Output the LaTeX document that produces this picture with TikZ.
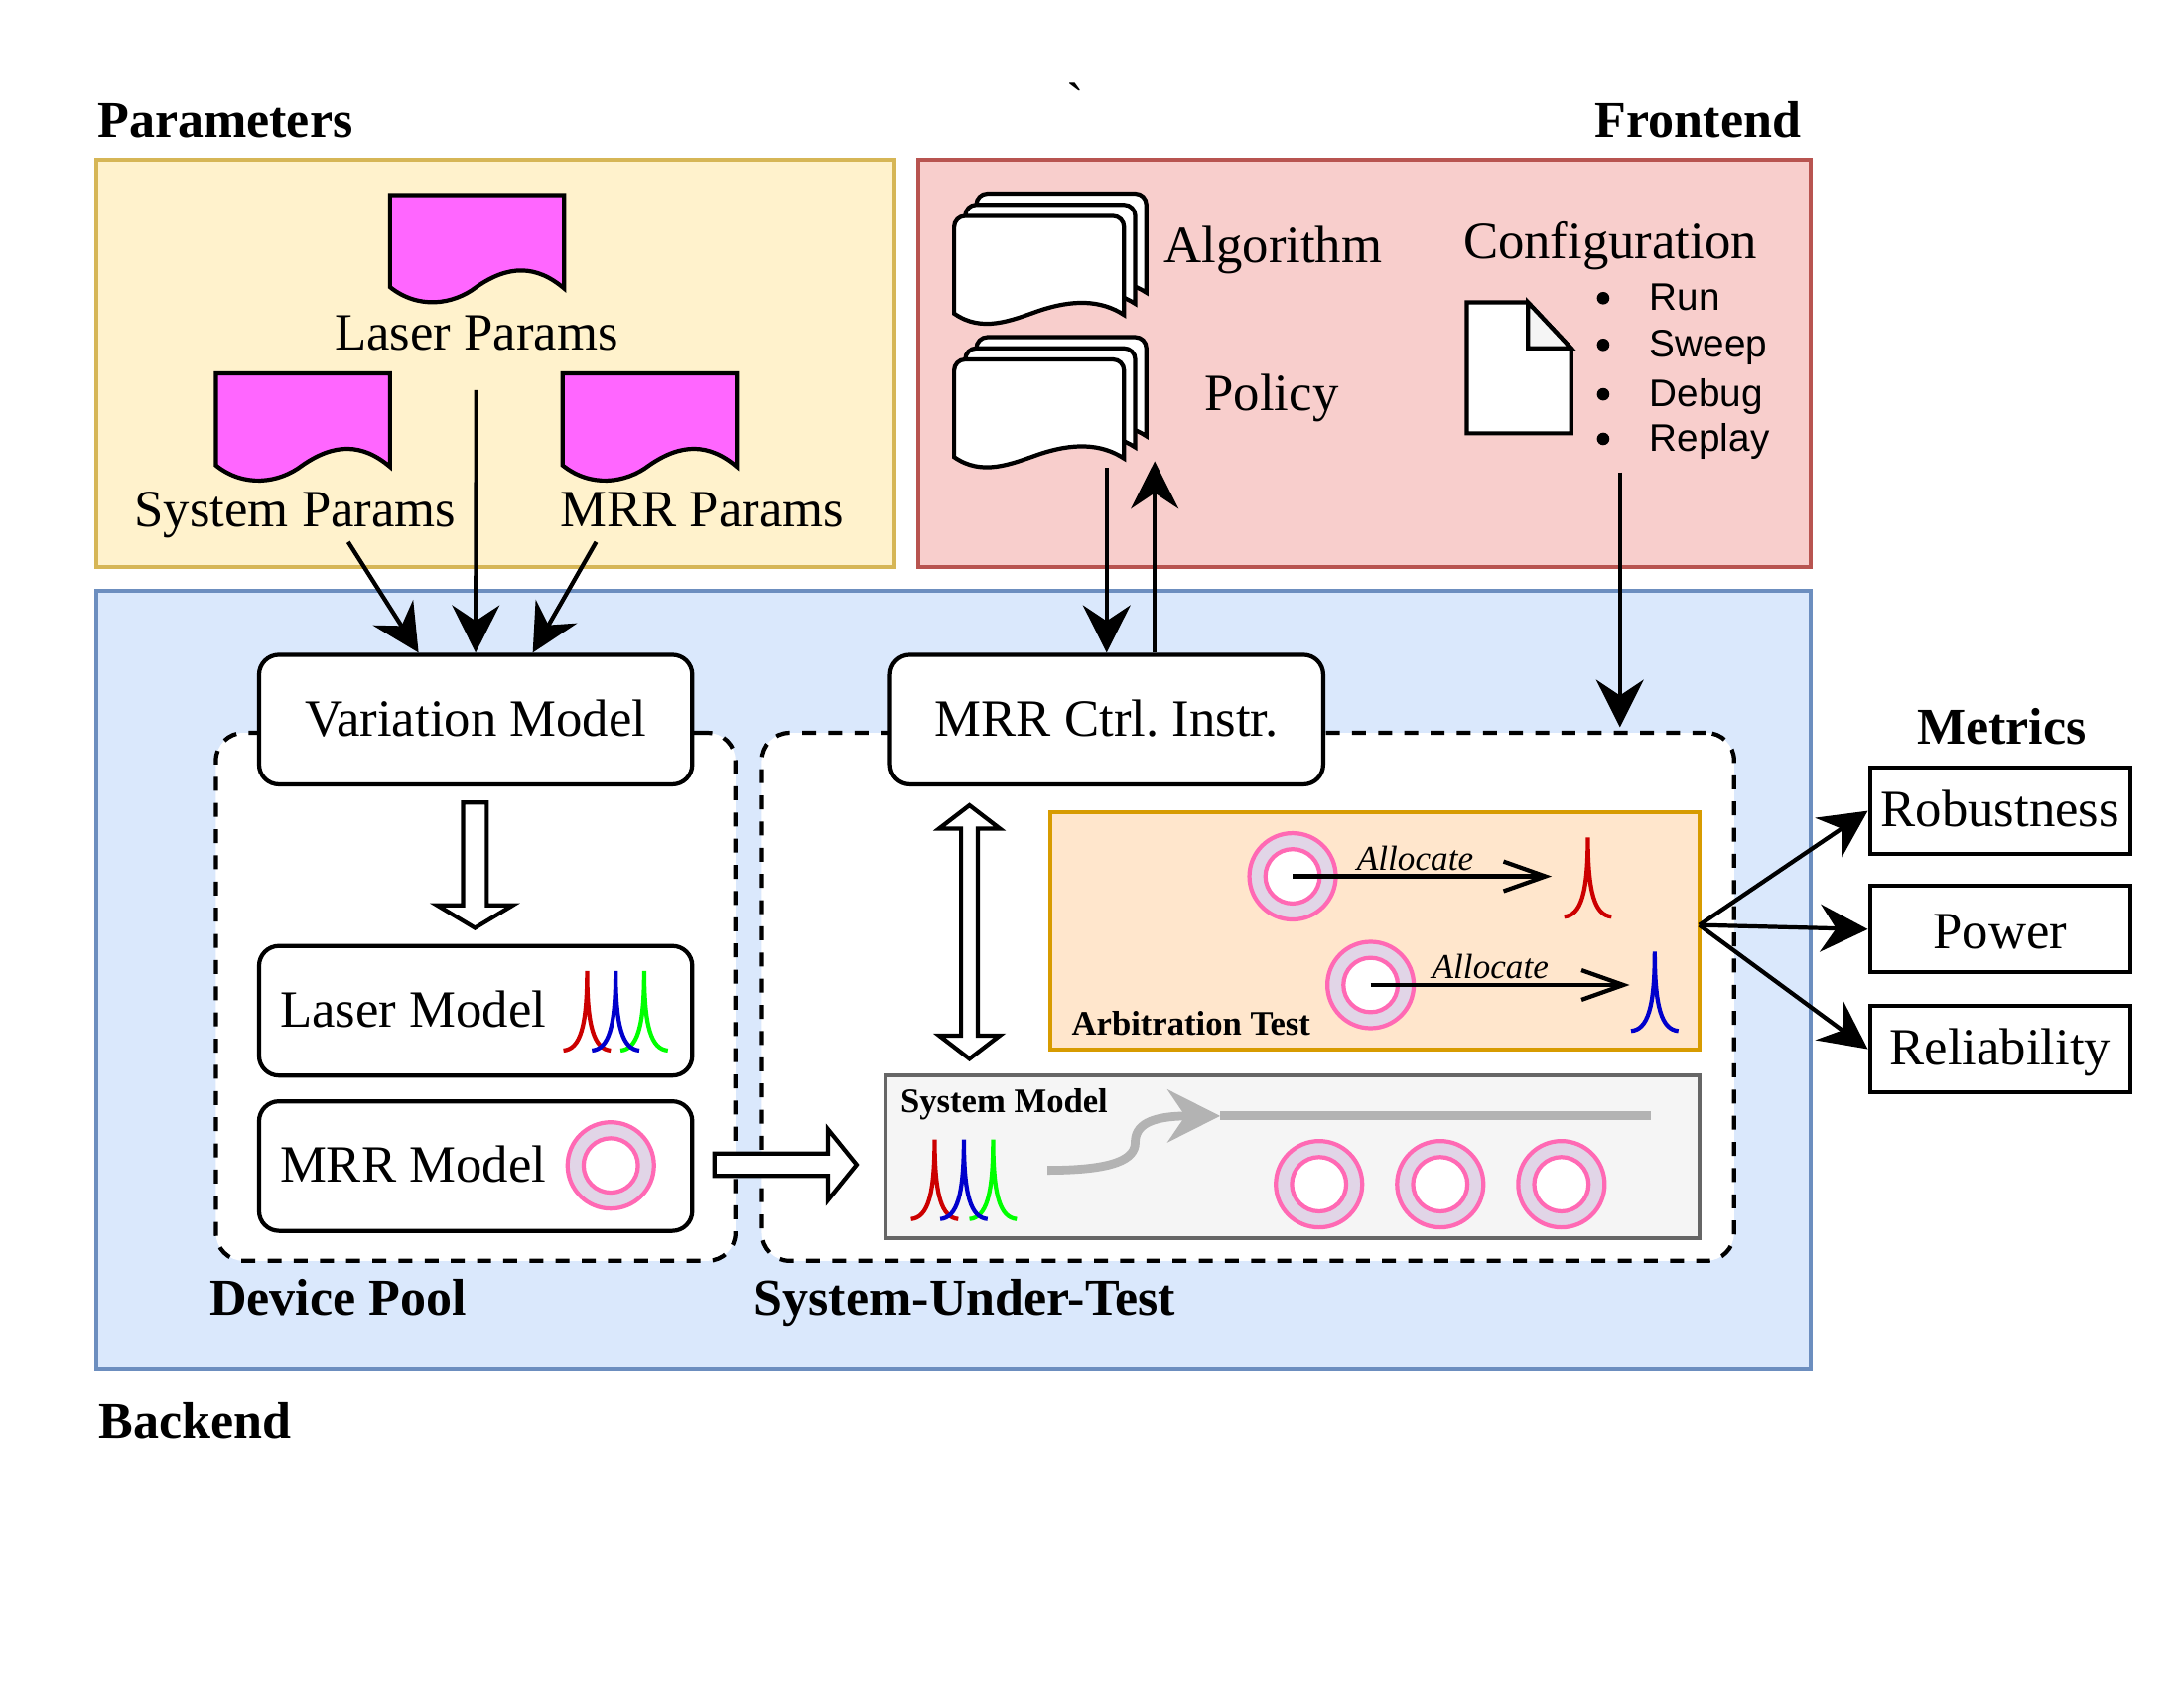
\documentclass[tikz,border=0pt]{standalone}
\usepackage{fontspec}
\setmainfont{Liberation Serif}
\newfontfamily\bulletfont{Liberation Sans}
\newfontfamily\gravefont{Liberation Serif}
\usetikzlibrary{arrows.meta,shapes.arrows,calc}
\definecolor{paramfill}{HTML}{FFF2CC}
\definecolor{paramline}{HTML}{D6B656}
\definecolor{frontfill}{HTML}{F8CECC}
\definecolor{frontline}{HTML}{B85450}
\definecolor{backfill}{HTML}{DAE8FC}
\definecolor{backline}{HTML}{6C8EBF}
\definecolor{arbfill}{HTML}{FFE6CC}
\definecolor{arbline}{HTML}{D79B00}
\definecolor{sysfill}{HTML}{F5F5F5}
\definecolor{sysline}{HTML}{666666}
\definecolor{docfill}{HTML}{FF66FF}
\definecolor{ringfill}{HTML}{E1D5E7}
\definecolor{ringline}{HTML}{FF69B4}
\definecolor{waveline}{HTML}{B3B3B3}
\definecolor{peakred}{HTML}{CC0000}
\definecolor{peakblue}{HTML}{0000CC}
\definecolor{peakgreen}{HTML}{00FF00}
\newcommand{\pv}{0.01403cm}
\begin{document}
\begin{tikzpicture}
[x=\pv,y=-\pv,line width=1.2pt,>={Stealth[length=13.6pt,width=13.6pt,inset=4.5pt]},%
  panel/.style={draw,line width=1.15pt},%
  poolbox/.style={draw,fill=white,rounded corners=.28cm,dash pattern=on 4pt off 3.5pt},%
  modelbox/.style={draw,fill=white,rounded corners=.2cm,text width=281*\pv,inner xsep=15*\pv,%
    inner ysep=0pt,minimum height=93*\pv,text height=.33cm,text depth=0pt,align=flush left,basefont},%
  metricbox/.style={draw,fill=white,minimum width=187*\pv,minimum height=62*\pv,inner sep=0pt,%
    text height=.315cm,text depth=0pt,basefont},%
  basefont/.style={font=\fontsize{15}{18}\selectfont},%
  headlabel/.style={font=\fontsize{14.8}{18}\selectfont\bfseries,inner sep=0pt},%
  baselabel/.style={basefont,inner sep=0pt,anchor=base},%
  smallhead/.style={font=\fontsize{9.85}{12}\selectfont\bfseries,inner sep=0pt,anchor=base west},%
  allocatelabel/.style={font=\fontsize{10}{12}\selectfont\itshape,inner sep=0pt,anchor=base},%
  modeitem/.style={font=\bulletfont\fontsize{11}{13}\selectfont,inner sep=0pt,anchor=base west},%
  modedot/.style={circle,fill,minimum size=9*\pv,inner sep=0pt},%
  ringouter/.style={circle,draw=ringline,fill=ringfill,minimum size=62*\pv,inner sep=0pt},%
  ringinner/.style={circle,draw=ringline,fill=white,minimum size=39*\pv,inner sep=0pt},%
  hollowarrow/.style={draw,fill=white,anchor=center},%
  barbtip/.style={-{Straight Barb[length=12pt,width=8.5pt]}},%
  paramdoc/.pic={\draw[fill=docfill] (0,0) -- (125,0) -- (125,67)
    .. controls (105,50) and (85,50) .. (62,66) .. controls (45,79) and (20,82) .. (0,66) -- cycle;},%
  pagestack/.pic={\foreach \d in {16,8,0} {
    \draw[fill=white,shift={(\d,-\d)}] (0,70) [rounded corners=.11cm] -- (0,0) -- (122,0) [sharp corners] -- (122,71)
      .. controls (105,60) and (85,60) .. (61,68) .. controls (41,75) and (20,84) .. (0,70) -- cycle;}},%
  peakline/.pic={\draw (-17,57) .. controls (-5,56) and (0,40) .. (0,0)
    .. controls (0,40) and (5,56) .. (17,57);}]
\useasboundingbox (0,0) rectangle (1568,1212);
% panels
\node (paramspanel) at (355.5,261) [panel,draw=paramline,fill=paramfill,minimum width=573*\pv,minimum height=292*\pv] {};
\node (frontpanel) at (979.5,261) [panel,draw=frontline,fill=frontfill,minimum width=641*\pv,minimum height=292*\pv] {};
\node (backpanel) at (684.5,703.5) [panel,draw=backline,fill=backfill,minimum width=1231*\pv,minimum height=559*\pv] {};
\node (devicepool) at (341.5,715.5) [poolbox,minimum width=373*\pv,minimum height=379*\pv] {};
\node (sut) at (896,715.5) [poolbox,minimum width=698*\pv,minimum height=379*\pv] {};
\node (arbtest) at (987,668) [panel,draw=arbline,fill=arbfill,minimum width=466*\pv,minimum height=170*\pv] {};
\node (sysmodel) at (928,830.5) [panel,draw=sysline,fill=sysfill,minimum width=584*\pv,minimum height=117*\pv] {};
% titles
\node at (68.5,99) [headlabel,anchor=base west] {Parameters};
\node at (1294.5,99) [headlabel,anchor=base east] {Frontend};
\node at (69.5,1032) [headlabel,anchor=base west] {Backend};
\node at (1437,534) [headlabel,anchor=base] {Metrics};
\node at (149,944) [headlabel,anchor=base west] {Device Pool};
\node at (540,944) [headlabel,anchor=base west] {System-Under-Test};
\node at (772,86) [baselabel] {\gravefont `};
% parameter files
\pic at (280,140) {paramdoc};
\pic at (155,268) {paramdoc};
\pic at (404,268) {paramdoc};
\node (laserparams) at (342,251) [baselabel] {Laser Params};
\node (systemparams) at (212,378) [baselabel] {System Params};
\node (mrrparams) at (504,378) [baselabel] {MRR Params};
% frontend files
\pic at (685,155) {pagestack};
\pic at (685,258) {pagestack};
\node (algorithm) at (914,188.5) [baselabel] {Algorithm};
\node (policy) at (913,295) [baselabel] {Policy};
\node (configuration) at (1156,186) [baselabel] {Configuration};
\draw[fill=white] (1053,217) -- (1097,217) -- (1128,250) -- (1128,311) -- (1053,311) -- cycle;
\draw[fill=sysfill] (1097,217) -- (1097,250) -- (1128,250) -- cycle;
\foreach \y/\t in {223/Run,256.5/Sweep,292/Debug,324/Replay} {
  \node at (1151,\y-9) [modedot] {};
  \node at (1183,\y) [modeitem] {\t};
}
% models
\node (varmodel) at (341.5,516.5) [modelbox,align=flush center] {Variation Model};
\node (ctrlinstr) at (794.5,516.5) [modelbox,align=flush center] {MRR Ctrl.\ Instr.};
\node (lasermodel) at (341.5,725.5) [modelbox] {Laser Model};
\node (mrrmodel) at (341.5,837) [modelbox] {MRR Model};
\node (varlaser) at (341,618.5) [hollowarrow,single arrow,shape border rotate=270,inner sep=7*\pv,%
  minimum height=90*\pv,single arrow head extend=18.5*\pv,single arrow tip angle=118] {};
\node (modelsys) at (560.75,836) [hollowarrow,single arrow,inner sep=6.5*\pv,%
  minimum height=102*\pv,single arrow head extend=17.5*\pv,single arrow tip angle=102] {};
\node (ctrlsys) at (696,669) [hollowarrow,double arrow,shape border rotate=90,inner sep=4.5*\pv,%
  minimum height=182*\pv,double arrow head extend=15.75*\pv,double arrow tip angle=105] {};
% rings
\foreach \n/\x/\y in {ringmodel/438.5/836.5,ringa/928/629,ringb/984/707,ringc/947/850,ringd/1034/850,ringe/1121/850} {
  \node (\n) at (\x,\y) [ringouter] {};
  \node at (\n.center) [ringinner] {};
}
% spectra
\foreach \c/\x/\y in {peakred/421.5/697,peakgreen/462.5/697,peakblue/442/697,peakred/671/818,peakgreen/713/818,peakblue/692/818,peakred/1140/601,peakblue/1188/683} {
  \pic[color=\c] at (\x,\y) {peakline};
}
% inner labels
\node at (768,743) [smallhead] {Arbitration Test};
\node at (645,798.5) [smallhead] {System Model};
\node at (1016,624.5) [allocatelabel] {Allocate};
\node at (1070,702.5) [allocatelabel] {Allocate};
% metrics
\node (robustness) at (1436,582) [metricbox] {Robustness};
\node (power) at (1436,667) [metricbox,text height=.385cm] {Power};
\node (reliability) at (1436,753) [metricbox] {Reliability};
% free ends
\coordinate (sysout) at (250,389);
\coordinate (laserout) at (342,280);
\coordinate (mrrout) at (428,389);
\coordinate (policyout) at (794.5,336);
\coordinate (policyin) at (829,331);
\coordinate (configout) at (1163,339);
\coordinate (sutin) at (1163,522);
\coordinate (arbout) at (1220,664);
\coordinate (peakatip) at (1114,629);
\coordinate (peakbtip) at (1170,707);
\coordinate (wavein) at (752,840);
\coordinate (wavemid) at (876,801);
\coordinate (waveend) at (1185,801);
% edges
\draw[->] (sysout) -- ($(varmodel.north)+(-41,0)$);
\draw[->] (laserout) -- (varmodel.north);
\draw[->] (mrrout) -- ($(varmodel.north)+(41,0)$);
\draw[->] (policyout) -- (ctrlinstr.north);
\draw[->] ($(ctrlinstr.north)+(34.5,0)$) -- (policyin);
\draw[->] (configout) -- (sutin);
\draw[->] (arbout) -- (robustness.west);
\draw[->] (arbout) -- (power.west);
\draw[->] (arbout) -- (reliability.west);
\draw[barbtip] (ringa.center) -- (peakatip);
\draw[barbtip] (ringb.center) -- (peakbtip);
\draw[waveline,line width=2.5pt,-{Stealth[length=15pt,width=15pt,inset=5pt]}] (wavein)
  .. controls (800,840) and (815,832) .. (815,820) .. controls (815,808) and (825,801) .. (wavemid);
\draw[waveline,line width=2.5pt] (wavemid) -- (waveend);
\end{tikzpicture}
\end{document}
